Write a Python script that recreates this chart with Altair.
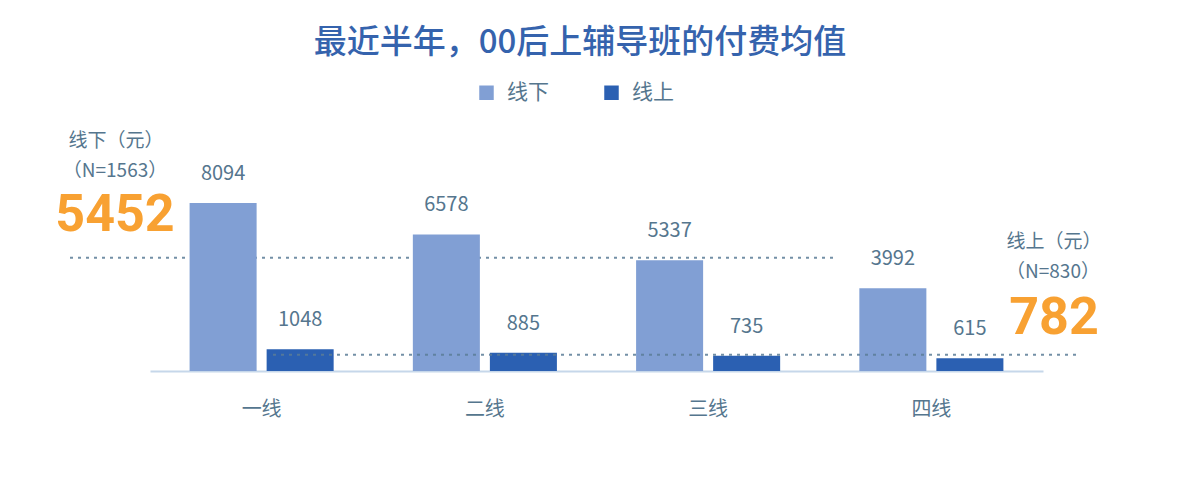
import altair as alt
import pandas as pd

# ---- data ----
cities = ["一线", "二线", "三线", "四线"]
series = ["线下", "线上"]
offline = [8094, 6578, 5337, 3992]
online = [1048, 885, 735, 615]
avg_offline = 5452
avg_online = 782
n_offline = 1563
n_online = 830

title_text = "最近半年，00后上辅导班的付费均值"

FONT = "Noto Sans CJK SC"
NUMFONT = "Roboto"
LIGHT = "#819fd4"
DARK = "#2b60b2"
TXT = "#55768e"
ORANGE = "#f8a132"
DASH = "#5b7d97"

rows = []
for c, a, b in zip(cities, offline, online):
    rows.append({"城市": c, "系列": series[0], "值": a})
    rows.append({"城市": c, "系列": series[1], "值": b})
df = pd.DataFrame(rows)

H = 363
ymax = 8094 * H / 168

xenc = alt.X(
    "城市:N", sort=cities,
    scale=alt.Scale(paddingInner=0, paddingOuter=0),
    axis=alt.Axis(title=None, labelAngle=0, ticks=False, grid=False,
                  domainColor="#c6d7ea", domainWidth=2,
                  labelFontSize=20, labelFont=FONT, labelColor=TXT,
                  labelPadding=28),
)
xoff = alt.XOffset("系列:N", sort=series,
                   scale=alt.Scale(paddingInner=0.13, paddingOuter=0.514))
yenc = alt.Y("值:Q", scale=alt.Scale(domain=[0, ymax]), axis=None)

base = alt.Chart(df)
bars = base.mark_bar().encode(
    x=xenc, xOffset=xoff, y=yenc,
    color=alt.Color("系列:N", sort=series,
                    scale=alt.Scale(domain=series, range=[LIGHT, DARK]),
                    legend=alt.Legend(title=None, orient="none", legendX=326, legendY=74,
                                      direction="horizontal", symbolType="square",
                                      symbolSize=210, symbolStrokeWidth=0,
                                      labelFontSize=21, labelFont=FONT, labelColor=TXT,
                                      labelOffset=10, columnPadding=52)),
)
labels = base.mark_text(dy=-29, baseline="middle", fontSize=20, font=FONT, color=TXT).encode(
    x=xenc, xOffset=xoff, y=yenc, text=alt.Text("值:Q", format="d")
)

avg_df = pd.DataFrame({"系列": series, "值": [avg_offline, avg_online]})
rule_off = alt.Chart(avg_df[avg_df["系列"] == "线下"]).mark_rule(
    strokeDash=[3, 5], strokeWidth=2, color=DASH, opacity=0.85
).encode(y=yenc, x=alt.value(-80), x2=alt.value(683))
rule_on = alt.Chart(avg_df[avg_df["系列"] == "线上"]).mark_rule(
    strokeDash=[3, 5], strokeWidth=2, color=DASH, opacity=0.85
).encode(y=yenc, x=alt.value(123), x2=alt.value(927))

one = alt.Data(values=[{}])

def txt(text, x, y, size, color, font=FONT, weight="normal"):
    return alt.Chart(one).mark_text(
        text=text, fontSize=size, font=font, color=color, fontWeight=weight,
        align="center", baseline="middle"
    ).encode(x=alt.value(x), y=alt.value(y))

title = txt(title_text, 430, 35, 33, "#3563ad", weight=500)
ann = [
    txt("线下（元）", -34, 133, 19, TXT),
    txt(f"（N={n_offline}）", -35, 163, 19, TXT),
    txt(str(avg_offline), -35, 207, 52, ORANGE, font=NUMFONT, weight="bold"),
    txt("线上（元）", 904, 234, 19, TXT),
    txt(f"（N={n_online}）", 903, 264, 19, TXT),
    txt(str(avg_online), 904, 310, 52, ORANGE, font=NUMFONT, weight="bold"),
]

chart = alt.layer(rule_off, bars, rule_on, labels, title, *ann).properties(
    width=893, height=H,
    padding={"left": 142, "top": 0, "right": 131, "bottom": 108},
    autosize=alt.AutoSizeParams(type="none"),
    background="white",
).configure_view(stroke=None)

chart.save("out.html", embed_options={"renderer": "svg", "actions": False})
